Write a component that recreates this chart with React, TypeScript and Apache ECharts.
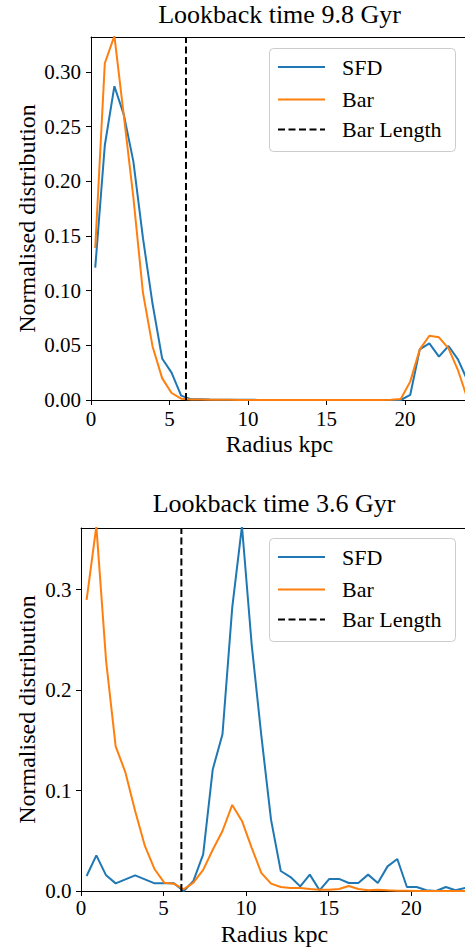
import React, { useEffect, useRef } from "react";
import * as echarts from "echarts";

// ---- Data ----
const radiusEarly = [0.27, 0.88, 1.49, 2.09, 2.70, 3.31, 3.92, 4.53, 5.13, 5.74, 6.35, 6.96, 7.57, 8.17, 8.78, 9.39, 10.00, 10.61, 11.21, 11.82, 12.43, 13.04, 13.65, 14.25, 14.86, 15.47, 16.08, 16.69, 17.29, 17.90, 18.51, 19.12, 19.73, 20.33, 20.94, 21.55, 22.16, 22.77, 23.37, 23.98];
const sfdEarly = [0.121, 0.233, 0.287, 0.261, 0.218, 0.148, 0.088, 0.038, 0.025, 0.004, 0.0008, 0.0006, 0.0004, 0.0003, 0.0002, 0.0002, 0.0002, 0.0001, 0.0001, 0.0001, 0.0001, 0.0001, 0.0001, 0.0001, 0.0001, 0.0001, 0.0001, 0.0001, 0.0001, 0.0001, 0.0001, 0.0001, 0.0, 0.0046, 0.0463, 0.0518, 0.0396, 0.0494, 0.0372, 0.0178];
const barEarly = [0.139, 0.308, 0.333, 0.260, 0.185, 0.098, 0.049, 0.020, 0.0064, 0.0012, 0.0005, 0.0004, 0.0003, 0.0002, 0.0002, 0.0001, 0.0001, 0.0001, 0.0001, 0.0001, 0.0001, 0.0001, 0.0001, 0.0001, 0.0001, 0.0001, 0.0001, 0.0001, 0.0001, 0.0001, 0.0001, 0.0003, 0.001, 0.0168, 0.0463, 0.0588, 0.0573, 0.0472, 0.0274, 0.001];
const barLengthEarly = 6.05;

const radiusLate = [0.34, 0.93, 1.52, 2.10, 2.69, 3.28, 3.87, 4.46, 5.04, 5.63, 6.22, 6.81, 7.40, 7.98, 8.57, 9.16, 9.75, 10.34, 10.92, 11.51, 12.10, 12.69, 13.28, 13.86, 14.45, 15.04, 15.63, 16.22, 16.80, 17.39, 17.98, 18.57, 19.16, 19.74, 20.33, 20.92, 21.51, 22.10, 22.68, 23.27];
const sfdLate = [0.0149, 0.0355, 0.0156, 0.0076, 0.0116, 0.0156, 0.0116, 0.0076, 0.0076, 0.0076, 0.0, 0.010, 0.0365, 0.121, 0.156, 0.282, 0.363, 0.245, 0.155, 0.071, 0.0199, 0.0139, 0.0046, 0.0163, 0.0007, 0.012, 0.012, 0.008, 0.008, 0.0163, 0.008, 0.0245, 0.0318, 0.004, 0.004, 0.0007, 0.0, 0.004, 0.0007, 0.003];
const barLate = [0.2896, 0.363, 0.229, 0.144, 0.118, 0.0796, 0.0448, 0.0216, 0.0083, 0.0073, 0.0017, 0.0083, 0.021, 0.041, 0.0597, 0.0856, 0.0697, 0.043, 0.018, 0.0073, 0.004, 0.003, 0.003, 0.002, 0.0013, 0.0013, 0.002, 0.005, 0.002, 0.0007, 0.0013, 0.0007, 0.0003, 0.0002, 0.0001, 0.0001, 0.0, 0.0, 0.0, 0.0];
const barLengthLate = 6.08;

const titles = ["Lookback time 9.8 Gyr", "Lookback time 3.6 Gyr"];
const xTicks = [0, 5, 10, 15, 20];
const yTicksEarly = [0, 0.05, 0.1, 0.15, 0.2, 0.25, 0.3];
const yTicksLate = [0, 0.1, 0.2, 0.3];
const seriesNames = ["SFD", "Bar", "Bar Length"];
const xAxisName = "Radius kpc";
const yAxisName = "Normalised distribution";

const FONT = "Liberation Serif";
const BLUE = "#1f77b4";
const ORANGE = "#ff7f0e";
const DASH = [7, 3.5];

const pairs = (xs: number[], ys: number[]) => xs.map((x, i) => [x, ys[i]]);

export default function App() {
  const ref = useRef<HTMLDivElement>(null);
  useEffect(() => {
    if (!ref.current) return;
    const chart = echarts.init(ref.current, null, { renderer: "svg" });

    const panels = [
      { top: 37, left: 91, height: 363, xMax: 23.82, yMax: 0.332, yTicks: yTicksEarly, dec: 2, r: radiusEarly, sfd: sfdEarly, bar: barEarly, bl: barLengthEarly, xLabOff: 18.5, yLabOff: 10, xNameOff: 44, legendTop: 48, titleX: 279.5, titleY: 14 },
      { top: 528, left: 81, height: 363, xMax: 23.26, yMax: 0.3612, yTicks: yTicksLate, dec: 1, r: radiusLate, sfd: sfdLate, bar: barLate, bl: barLengthLate, xLabOff: 17, yLabOff: 9.5, xNameOff: 43, legendTop: 538, titleX: 274, titleY: 503 },
    ];
    const colors = [BLUE, ORANGE, "#000"];

    const axisLine = { show: true, onZero: false, lineStyle: { color: "#000", width: 1 } };
    const tickStyle = { show: true, length: 5, lineStyle: { color: "#000", width: 1 } };

    const grid: any[] = [];
    const xAxis: any[] = [];
    const yAxis: any[] = [];
    const series: any[] = [];

    panels.forEach((p, i) => {
      grid.push({ left: p.left, right: 0, top: p.top, height: p.height, containLabel: false });
      xAxis.push({
        type: "value", gridIndex: i, min: 0, max: p.xMax, position: "bottom",
        axisLine, axisTick: { ...tickStyle, customValues: xTicks },
        axisLabel: { show: false }, splitLine: { show: false },
      });
      xAxis.push({
        type: "value", gridIndex: i, min: 0, max: p.xMax, position: "top",
        axisLine, axisTick: { show: false }, axisLabel: { show: false }, splitLine: { show: false },
      });
      yAxis.push({
        type: "value", gridIndex: i, min: 0, max: p.yMax,
        axisLine, axisTick: { ...tickStyle, customValues: p.yTicks },
        axisLabel: { show: false }, splitLine: { show: false },
      });
      const xi = i * 2;
      series.push({
        name: "SFD", type: "line", xAxisIndex: xi, yAxisIndex: i, data: pairs(p.r, p.sfd),
        symbol: "none", showSymbol: false, lineStyle: { color: BLUE, width: 2 }, itemStyle: { color: BLUE }, clip: true,
      });
      series.push({
        name: "Bar", type: "line", xAxisIndex: xi, yAxisIndex: i, data: pairs(p.r, p.bar),
        symbol: "none", showSymbol: false, lineStyle: { color: ORANGE, width: 2 }, itemStyle: { color: ORANGE }, clip: true,
      });
      series.push({
        name: "Bar Length", type: "line", xAxisIndex: xi, yAxisIndex: i, data: [[p.bl, 0], [p.bl, p.yMax]],
        symbol: "none", showSymbol: false, lineStyle: { color: "#000", width: 2, type: DASH }, itemStyle: { color: "#000" }, clip: true,
      });
    });

    chart.setOption({
      animation: false,
      backgroundColor: "#fff",
      textStyle: { fontFamily: FONT },
      grid, xAxis, yAxis, series,
    });

    // Texts drawn as graphic text, positioned through the axes' own scales
    const txt = (x: number, y: number, text: string, size: number, align: string, vAlign: string, rotation = 0) => ({
      type: "text", x, y, rotation, silent: true,
      style: { text, fill: "#000", fontFamily: FONT, fontSize: size, textAlign: align, textVerticalAlign: vAlign },
    });
    const graphic: any[] = [];
    panels.forEach((p, i) => {
      const xi = i * 2;
      const x0 = chart.convertToPixel({ xAxisIndex: xi }, 0) as number;
      const x1 = chart.convertToPixel({ xAxisIndex: xi }, p.xMax) as number;
      const y0 = chart.convertToPixel({ yAxisIndex: i }, 0) as number;
      const y1 = chart.convertToPixel({ yAxisIndex: i }, p.yMax) as number;
      xTicks.forEach((v) => {
        const px = chart.convertToPixel({ xAxisIndex: xi }, v) as number;
        graphic.push(txt(px, y0 + p.xLabOff, String(v), 21, "center", "middle"));
      });
      p.yTicks.forEach((v) => {
        const py = chart.convertToPixel({ yAxisIndex: i }, v) as number;
        graphic.push(txt(x0 - p.yLabOff, py, v.toFixed(p.dec), 21, "right", "middle"));
      });
      graphic.push(txt((x0 + x1 + 3) / 2, y0 + p.xNameOff, xAxisName, 24, "center", "middle"));
      graphic.push(txt(26.5, (y0 + y1) / 2, yAxisName, 24, "center", "middle", Math.PI / 2));
      graphic.push(txt(p.titleX, p.titleY, titles[i], 26, "center", "middle"));

      // legend
      const lx = 269, ly = p.legendTop;
      graphic.push({
        type: "rect", silent: true, z: 10,
        shape: { x: lx + 0.5, y: ly + 0.5, width: 186, height: 103, r: 4 },
        style: { fill: "rgba(255,255,255,0.8)", stroke: "#cccccc", lineWidth: 1 },
      });
      const rows = [19, 51.5, 81.5];
      seriesNames.forEach((name, k) => {
        const yy = ly + rows[k];
        graphic.push({
          type: "line", silent: true, z: 11,
          shape: { x1: lx + 9, y1: yy, x2: lx + 56, y2: yy },
          style: { stroke: colors[k], lineWidth: 2, lineDash: k === 2 ? DASH : null },
        });
        graphic.push({ ...txt(lx + 73, yy, name, 22, "left", "middle"), z: 11 });
      });
    });
    chart.setOption({ graphic });

    return () => chart.dispose();
  }, []);
  return <div ref={ref} style={{ position: "fixed", left: 0, top: 0, width: 465, height: 949 }} />;
}
